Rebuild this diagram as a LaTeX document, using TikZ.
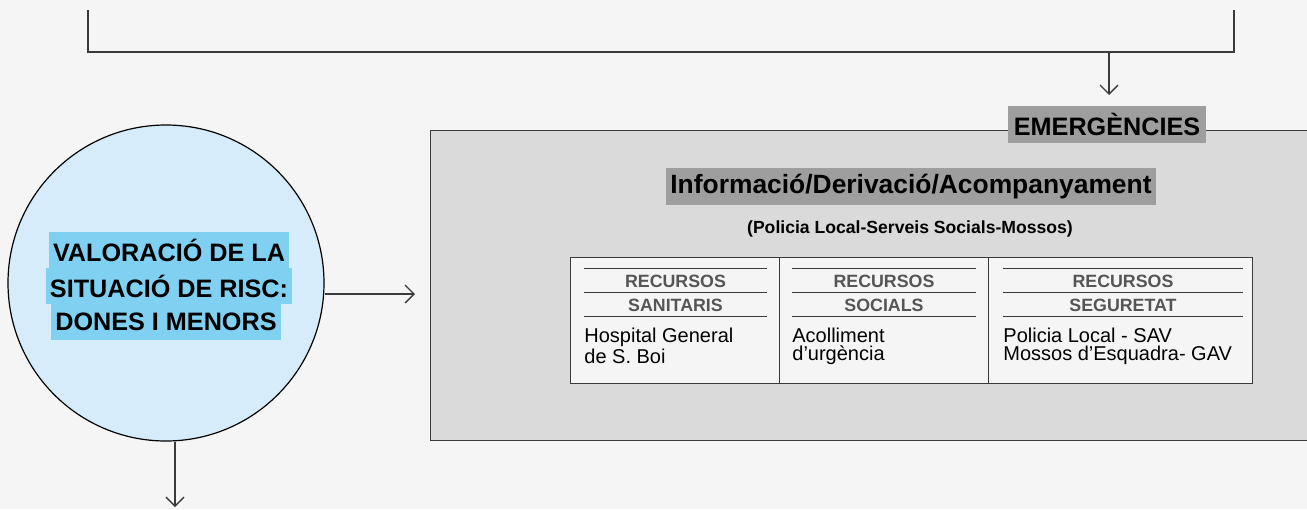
\documentclass[tikz,border=0pt]{standalone}
\usepackage{xcolor}
\usepackage{tikz}
\usepackage{fontspec}
\setmainfont{Liberation Sans}
\usetikzlibrary{arrows.meta,positioning}

\definecolor{fons}{HTML}{F5F5F5}
\definecolor{gris}{HTML}{DADADA}
\definecolor{etiqueta}{HTML}{9E9E9E}
\definecolor{blaucel}{HTML}{D6ECFA}
\definecolor{subratllat}{HTML}{80D1F1}
\definecolor{traç}{HTML}{3A3A3A}
\definecolor{capçal}{HTML}{555555}

\begin{document}
\begin{tikzpicture}[x=0.5pt, y=-0.5pt,
    linia/.style={draw=traç, line width=0.65pt},
    fletxa/.style={linia, -{Straight Barb[length=4.5pt,width=9pt]}},
    caixa/.style={draw=traç, line width=0.7pt, fill=gris, inner sep=0pt},
    titol/.style={fill=etiqueta, inner xsep=3pt, inner ysep=0pt, minimum height=18.5pt, font=\bfseries\fontsize{12.6}{14}\selectfont},
    risc/.style={fill=subratllat, inner xsep=2pt, inner ysep=0pt, minimum height=18pt, font=\bfseries\fontsize{12.6}{14}\selectfont},
    columna/.style={draw=traç, line width=0.7pt, fill=fons, inner sep=0pt, minimum height=63pt, anchor=north west},
    capcalera/.style={text=capçal, font=\bfseries\fontsize{8.9}{10}\selectfont, inner sep=0pt},
    cos/.style={anchor=north west, align=left, inner sep=0pt, font=\fontsize{10}{9}\selectfont}]
    \clip (0,0) rectangle (1307,509);
    \fill[fons] (0,0) rectangle (1307,509);

    % clau superior
    \coordinate (clauE) at (88,10);
    \coordinate (clauD) at (1234,10);
    \coordinate (clauA) at (1109,52);
    \coordinate (clauB) at (1109,95);
    \draw[linia] (clauE) -- (88,52) -- (1234,52) -- (clauD);
    \draw[fletxa] (clauA) -- (clauB);

    % caixa d'emergencies
    \node[caixa, anchor=north west, minimum width=450pt, minimum height=155pt] (emerg) at (430,130) {};
    \node[titol] (emergtit) at (1107,124.5) {EMERGÈNCIES};
    \node[titol, font=\bfseries\fontsize{13.2}{15}\selectfont, inner xsep=2pt] (info) at (911,186.5) {Informació/Derivació/Acompanyament};
    \node[font=\bfseries\fontsize{8.8}{10}\selectfont, inner sep=0pt] (cossos) at (910,229) {(Policia Local-Serveis Socials-Mossos)};

    % taula de recursos
    \node[columna, minimum width=104.5pt] (sanit) at (570,257) {};
    \node[columna, minimum width=104.5pt] (social) at (779,257) {};
    \node[columna, minimum width=132pt] (segur) at (988,257) {};
    \foreach \col/\xa/\xb in {sanit/584/767, social/792/976, segur/1003/1243} {
        \draw[linia, line width=0.5pt] (\xa,268) -- (\xb,268);
        \draw[linia, line width=0.5pt] (\xa,292) -- (\xb,292);
        \draw[linia, line width=0.5pt] (\xa,316) -- (\xb,316);
    }
    \node[capcalera] (sanit1) at (675.5,281) {RECURSOS};
    \node[capcalera] (sanit2) at (675.5,305) {SANITARIS};
    \node[capcalera] (social1) at (884,281) {RECURSOS};
    \node[capcalera] (social2) at (884,305) {SOCIALS};
    \node[capcalera] (segur1) at (1123,281) {RECURSOS};
    \node[capcalera] (segur2) at (1123,305) {SEGURETAT};
    \node[cos] (sanittxt) at (584,328) {Hospital General\\de S. Boi};
    \node[cos] (socialtxt) at (792,328) {Acolliment\\d’urgència};
    \node[cos] (segurtxt) at (1003,328) {Policia Local - SAV\\Mossos d’Esquadra- GAV};

    % valoracio
    \node[circle, draw=black, line width=0.6pt, fill=blaucel, minimum size=158pt, inner sep=0pt] (valor) at (166,283) {};
    \node[risc] (valor1) at (169,250) {VALORACIÓ DE LA};
    \node[risc] (valor2) at (169,286) {SITUACIÓ DE RISC:};
    \node[risc] (valor3) at (166,321.5) {DONES I MENORS};

    \coordinate (valorD) at (415,294);
    \coordinate (valorB) at (175,507);
    \draw[fletxa] (valor.east |- valorD) -- (valorD);
    \draw[fletxa] (valorB |- valor.south) -- (valorB);
\end{tikzpicture}
\end{document}
